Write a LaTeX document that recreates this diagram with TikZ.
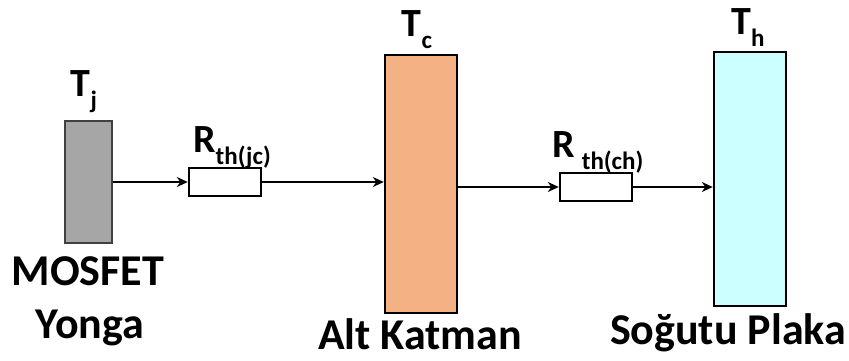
\documentclass[tikz,border=0pt]{standalone}
\usepackage{fontspec}
\setmainfont{Carlito}
\usetikzlibrary{calc, arrows.meta}
\definecolor{chipgray}{HTML}{A6A6A6}
\definecolor{katman}{HTML}{F4B183}
\definecolor{plaka}{HTML}{CCFFFF}
\newcommand{\altyazi}[1]{\raisebox{-0.3em}{\fontsize{25}{25}\selectfont #1}}

\begin{document}
\begin{tikzpicture}[x=1pt, y=1pt, line width=2.4pt,
  blok/.style={draw, rectangle, inner sep=0pt},
  direnc/.style={draw, rectangle, fill=white, inner sep=0pt,
    minimum width=72pt, minimum height=28pt},
  akis/.style={-{Stealth[length=11pt, width=10pt]}},
  etiket/.style={font=\fontsize{40}{46}\selectfont\bfseries, anchor=base, inner sep=0pt},
  yazi/.style={font=\fontsize{44}{52}\selectfont\bfseries, anchor=base, inner sep=0pt}]
  \useasboundingbox (0,0) rectangle (849,360);
  % 三个层
  \node[blok, draw=black!75, fill=chipgray, minimum width=47pt, minimum height=122pt] (yonga) at (88.5,178) {};
  \node[blok, fill=katman, minimum width=72pt, minimum height=258pt] (altk) at (421,176) {};
  \node[blok, fill=plaka, minimum width=72pt, minimum height=254pt] (plaka) at (750,181) {};
  % 热阻
  \node[direnc] (rjc) at (225,178) {};
  \node[direnc] (rch) at (596,173) {};
  \draw[akis] (yonga.east) -- (rjc.west);
  \draw[akis] (rjc.east) -- (altk.west |- rjc.east);
  \draw[akis] (altk.east |- rch.west) -- (rch.west);
  \draw[akis] (rch.east) -- (plaka.west |- rch.east);
  % 温度与热阻标注
  \node[etiket] (tj) at (84,264) {T\altyazi{j}};
  \node[etiket] (tc) at (417,324) {T\altyazi{c}};
  \node[etiket] (th) at (748,326) {T\altyazi{h}};
  \node[etiket] (lrjc) at (232,208) {R\altyazi{th(jc)}};
  \node[etiket] (lrch) at (598,203) {R\,\altyazi{th(ch)}};
  % 名称
  \node[yazi] (mosfet) at (88,75) {MOSFET};
  \node[yazi] (yongalbl) at (90,22) {Yonga};
  \node[yazi] (altklbl) at (420,11) {Alt Katman};
  \node[yazi] (plakalbl) at (728,16) {Soğutu Plaka};
\end{tikzpicture}
\end{document}
